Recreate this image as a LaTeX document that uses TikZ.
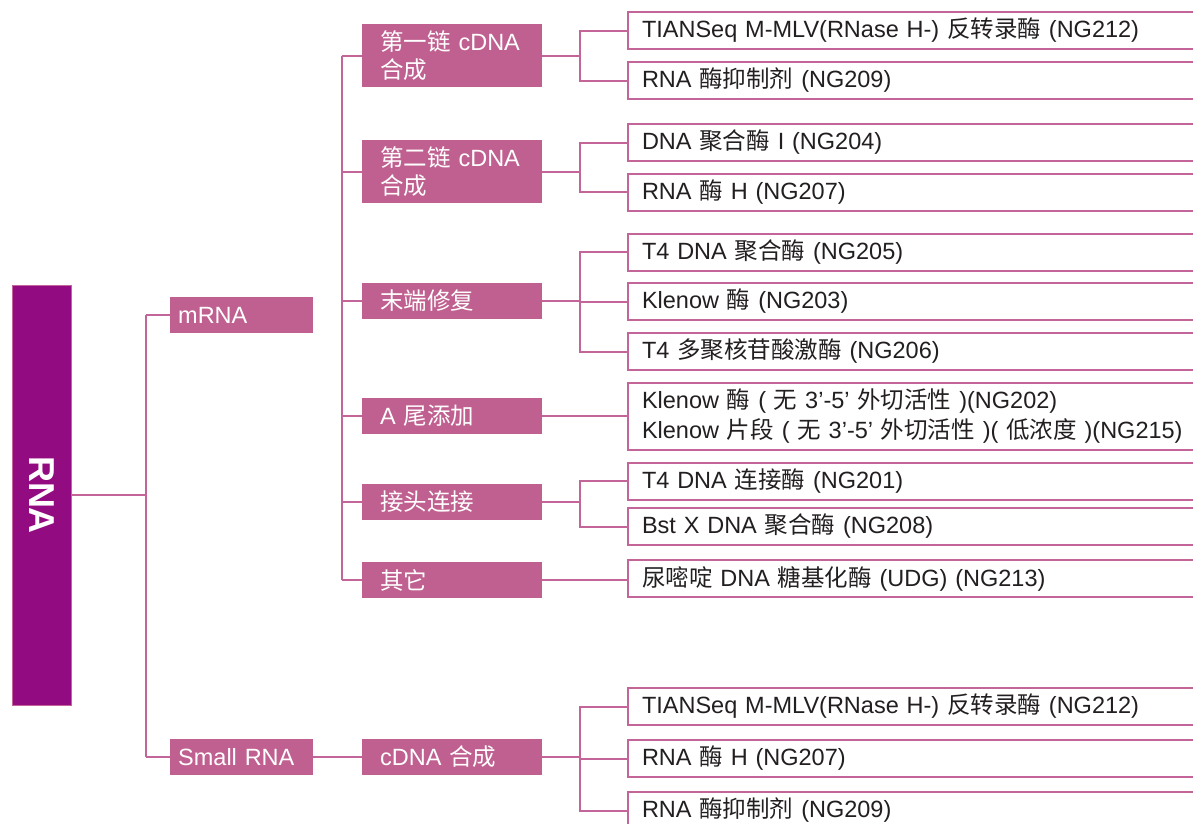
\documentclass[tikz,border=0pt]{standalone}
\usepackage{graphicx}
\usepackage{fontspec}
\setmainfont{Liberation Sans}
\newfontfamily\cjk{Noto Sans CJK SC}
\newcommand\zh[1]{{\cjk #1}}
\definecolor{rnapurple}{HTML}{930B80}
\definecolor{pinkbox}{HTML}{C06090}
\definecolor{pinkline}{HTML}{C4659A}
\definecolor{txtdark}{HTML}{231F20}
\tikzset{
  conn/.style={draw=pinkline, line width=2pt},
  rbox/.style={draw=pinkline, line width=2pt, fill=white, anchor=west,
    minimum width=600, minimum height=37, inner xsep=14, inner ysep=0,
    text width=572, align=left, text=txtdark,
    font=\fontsize{23.5}{30}\selectfont},
  pbox/.style={fill=pinkbox, anchor=west, minimum width=180, minimum height=36,
    inner xsep=18, inner ysep=0, text width=144, align=left, text=white,
    font=\fontsize{23.5}{28}\selectfont},
  mbox/.style={fill=pinkbox, anchor=west, minimum width=143, minimum height=36,
    inner xsep=8, inner ysep=0, text width=127, align=left, text=white,
    font=\fontsize{23.5}{28}\selectfont},
  rnabox/.style={fill=rnapurple, draw=pinkline, line width=0.6pt, minimum width=59, minimum height=420,
    inner sep=0, text=white, font=\fontsize{36}{40}\selectfont\bfseries}
}
\begin{document}
\begin{tikzpicture}[x=1pt,y=-1pt]
\clip (0,0) rectangle (1193,823);
\fill[white] (0,0) rectangle (1193,823);
% bus coordinates
\coordinate (bA) at (146,0);
\coordinate (bB) at (342,0);
\coordinate (bC) at (580,0);
% root
\node[rnabox] (rna) at (41.5,495) {\rotatebox{-90}{RNA}};
% level 1
\node[mbox] (mrna) at (170,315) {mRNA};
\node[mbox] (srna) at (170,757) {Small RNA};
% level 2
\node[pbox, minimum height=63] (s1) at (362,55.5) {\zh{第一链} cDNA\\\zh{合成}};
\node[pbox, minimum height=63] (s2) at (362,171.5) {\zh{第二链} cDNA\\\zh{合成}};
\node[pbox] (s3) at (362,301) {\zh{末端修复}};
\node[pbox] (s4) at (362,416) {A \zh{尾添加}};
\node[pbox] (s5) at (362,501.5) {\zh{接头连接}};
\node[pbox] (s6) at (362,580) {\zh{其它}};
\node[pbox] (s7) at (362,757) {cDNA \zh{合成}};
% level 3
\node[rbox] (r1) at (627,30.5) {TIANSeq M-MLV(RNase H-) \zh{反转录酶} (NG212)};
\node[rbox] (r2) at (627,80.5) {RNA \zh{酶抑制剂} (NG209)};
\node[rbox] (r3) at (627,142.5) {DNA \zh{聚合酶} I (NG204)};
\node[rbox] (r4) at (627,192) {RNA \zh{酶} H (NG207)};
\node[rbox] (r5) at (627,252) {T4 DNA \zh{聚合酶} (NG205)};
\node[rbox] (r6) at (627,301.5) {Klenow \zh{酶} (NG203)};
\node[rbox] (r7) at (627,351.5) {T4 \zh{多聚核苷酸激酶} (NG206)};
\node[rbox, minimum height=67] (r8) at (627,416.5) {Klenow \zh{酶} ( \zh{无} 3’-5’ \zh{外切活性} )(NG202)\\Klenow \zh{片段} ( \zh{无} 3’-5’ \zh{外切活性} )( \zh{低浓度} )(NG215)};
\node[rbox] (r9) at (627,481) {T4 DNA \zh{连接酶} (NG201)};
\node[rbox] (r10) at (627,526.5) {Bst X DNA \zh{聚合酶} (NG208)};
\node[rbox] (r11) at (627,578.5) {\zh{尿嘧啶} DNA \zh{糖基化酶} (UDG) (NG213)};
\node[rbox] (r12) at (627,706.5) {TIANSeq M-MLV(RNase H-) \zh{反转录酶} (NG212)};
\node[rbox] (r13) at (627,758.5) {RNA \zh{酶} H (NG207)};
\node[rbox] (r14) at (627,810.5) {RNA \zh{酶抑制剂} (NG209)};
% connectors level 1
\draw[conn] (rna.east) -- (rna.east -| bA);
\draw[conn] (mrna.west -| bA) -- (srna.west -| bA);
\draw[conn] (mrna.west -| bA) -- (mrna.west);
\draw[conn] (srna.west -| bA) -- (srna.west);
% connectors level 2
\draw[conn] (s1.west -| bB) -- (s6.west -| bB);
\foreach \s in {s1,s2,s3,s4,s5,s6}{\draw[conn] (\s.west -| bB) -- (\s.west);}
\draw[conn] (srna.east) -- (s7.west);
% connectors level 3
\foreach \p/\c in {s1/r1,s1/r2,s2/r3,s2/r4,s3/r5,s3/r6,s3/r7,s5/r9,s5/r10,s7/r12,s7/r13,s7/r14}{
  \draw[conn] (\p.east) -- (\p.east -| bC) |- (\c.west);}
\draw[conn] (s4.east) -- (s4.east -| r8.west);
\draw[conn] (s6.east) -- (s6.east -| r11.west);
\end{tikzpicture}
\end{document}
